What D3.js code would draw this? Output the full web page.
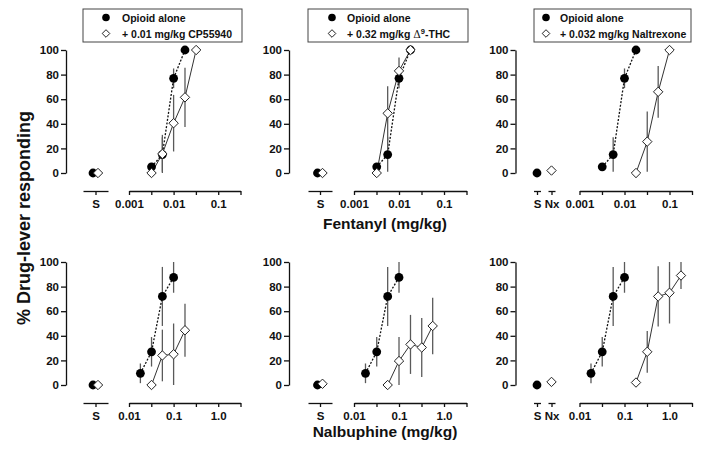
<!DOCTYPE html>
<html><head><meta charset="utf-8">
<script src="https://cdn.jsdelivr.net/npm/d3@7"></script>
<style>
body{margin:0;background:#fff}
svg{display:block}
text{font-family:"Liberation Sans",Arial,Helvetica,sans-serif;font-weight:bold;fill:#111}
</style>
</head><body>
<svg id="c" width="704" height="449"></svg>
<script>
// ---------------- DATA ----------------
const yTickValues = [0, 20, 40, 60, 80, 100];
const topTickValues = [0.001, 0.00316, 0.01, 0.0316, 0.1, 0.316];
const topTickLabels = ["0.001", "", "0.01", "", "0.1", ""];
const botTickValues = [0.01, 0.0316, 0.1, 0.316, 1, 3.16];
const botTickLabels = ["0.01", "", "0.1", "", "1.0", ""];
const xTitles = ["Fentanyl (mg/kg)", "Nalbuphine (mg/kg)"];
const yTitle = "% Drug-lever responding";
const legendAlone = "Opioid alone";
const legendTreat = ["+ 0.01 mg/kg CP55940", "+ 0.32 mg/kg \u0394^9-THC", "+ 0.032 mg/kg Naltrexone"];
const controlCats = [["S"], ["S"], ["S", "Nx"]];

// Fentanyl alone (filled circles)
const fenAloneDose = [0.0032, 0.0056, 0.01, 0.018];
const fenAloneVal  = [5, 15, 77, 100];
const fenAloneErr  = [0, 14, 8, 0];
// Fentanyl + CP55940
const fenCPDose = [0.0032, 0.0056, 0.01, 0.018, 0.032];
const fenCPVal  = [0, 15.5, 40.5, 61.5, 100];
const fenCPErr  = [0, 15.5, 23, 24, 0];
// Fentanyl + THC
const fenTHCDose = [0.0032, 0.0056, 0.01, 0.018];
const fenTHCVal  = [0, 48.5, 83, 100];
const fenTHCErr  = [0, 22, 11, 0];
// Fentanyl + Naltrexone
const fenNTXDose = [0.018, 0.032, 0.056, 0.1];
const fenNTXVal  = [0, 25.5, 66, 100];
const fenNTXErr  = [0, 24.5, 21, 0];

// Nalbuphine alone
const nalAloneDose = [0.018, 0.032, 0.056, 0.1];
const nalAloneVal  = [9.5, 27, 72, 87.5];
const nalAloneErr  = [8, 12, 24, 12.5];
// Nalbuphine + CP55940
const nalCPDose = [0.032, 0.056, 0.1, 0.18];
const nalCPVal  = [0, 24, 25, 44.5];
const nalCPErr  = [0, 21, 25, 21.5];
// Nalbuphine + THC
const nalTHCDose = [0.056, 0.1, 0.18, 0.32, 0.56];
const nalTHCVal  = [0, 19.5, 33, 30.5, 48];
const nalTHCErr  = [0, 19.5, 24, 24, 23];
// Nalbuphine + Naltrexone
const nalNTXDose = [0.18, 0.32, 0.56, 1.0, 1.8];
const nalNTXVal  = [2, 27, 72, 75, 89];
const nalNTXErr  = [0, 17, 24.5, 25, 11];

// Saline / naltrexone-alone control points (per panel)
const fenCtrlAlone = [0, 0, 0];
const fenCtrlTreat = [0, 0, 2];
const nalCtrlAlone = [0, 0, 0];
const nalCtrlTreat = [0, 1, 2.5];

// ---------------- LAYOUT ----------------
const svg = d3.select("#c");
const zip = (d, v, e) => d.map((x, i) => ({dose: x, val: v[i], err: e[i]}));

const rows = [
  {yRange: [173, 50], axisY: 191, domain: [0.001, 0.316], tv: topTickValues, tl: topTickLabels,
   title: xTitles[0], titleY: 228.5,
   alone: zip(fenAloneDose, fenAloneVal, fenAloneErr),
   treat: [zip(fenCPDose, fenCPVal, fenCPErr), zip(fenTHCDose, fenTHCVal, fenTHCErr), zip(fenNTXDose, fenNTXVal, fenNTXErr)],
   ctrlA: fenCtrlAlone, ctrlT: fenCtrlTreat},
  {yRange: [385, 262], axisY: 403, domain: [0.01, 3.16], tv: botTickValues, tl: botTickLabels,
   title: xTitles[1], titleY: 436.5,
   alone: zip(nalAloneDose, nalAloneVal, nalAloneErr),
   treat: [zip(nalCPDose, nalCPVal, nalCPErr), zip(nalTHCDose, nalTHCVal, nalTHCErr), zip(nalNTXDose, nalNTXVal, nalNTXErr)],
   ctrlA: nalCtrlAlone, ctrlT: nalCtrlTreat}
];

const cols = [
  {yAxisX: 66,    catRange: [83, 108],  catPad: 0.5, segHalf: 12.5, logRange: [129, 240.5], legend: {x: 83, w: 159, mx: 23, tx: 39}},
  {yAxisX: 289,   catRange: [308, 332], catPad: 0.5, segHalf: 12,   logRange: [354, 466.5], legend: {x: 308, w: 160, mx: 24, tx: 39}},
  {yAxisX: 515.5, catRange: [537, 551.5], catPad: 0, segHalf: 3.5,  logRange: [579.5, 692], legend: {x: 534, w: 157, mx: 12, tx: 26}}
];

const diamond = h => `M0,${-h}L${h},0L0,${h}L${-h},0Z`;
const R = 4.4, H = 4.7;

rows.forEach((row, ri) => {
  const y = d3.scaleLinear().domain([0, 100]).range(row.yRange);
  cols.forEach((col, ci) => {
    const g = svg.append("g");
    const x = d3.scaleLog().domain(row.domain).range(col.logRange);
    const cat = d3.scalePoint().domain(controlCats[ci]).range(col.catRange).padding(col.catPad);

    // Y axis
    g.append("g").attr("transform", `translate(${col.yAxisX},0)`)
      .call(d3.axisLeft(y).tickValues(yTickValues).tickSize(5).tickSizeOuter(0).tickPadding(2));
    // Log X axis
    g.append("g").attr("transform", `translate(0,${row.axisY})`)
      .call(d3.axisBottom(x).tickValues(row.tv).tickFormat((d, i) => row.tl[i]).tickSize(4).tickSizeOuter(0).tickPadding(5));
    // Category (saline) axes, each a short separate segment
    controlCats[ci].forEach(c => {
      const cx = cat(c);
      const s = d3.scalePoint().domain([c]).range([cx - col.segHalf, cx + col.segHalf]).padding(0.5);
      g.append("g").attr("transform", `translate(0,${row.axisY})`)
        .call(d3.axisBottom(s).tickSize(4).tickSizeOuter(0).tickPadding(5));
    });
    g.selectAll(".domain, .tick line").attr("stroke", "#111").attr("stroke-width", 1.3);
    g.selectAll(".tick text").attr("font-size", 11.5).attr("font-weight", "bold")
      .attr("font-family", '"Liberation Sans",Arial,sans-serif').attr("fill", "#111");

    const alone = row.alone, treat = row.treat[ci];
    // error bars
    const eb = g.append("g").attr("stroke", "#5a5a5a").attr("stroke-width", 1.3);
    [alone, treat].forEach(ser => {
      eb.selectAll(null).data(ser.filter(d => d.err > 0)).join("line")
        .attr("x1", d => x(d.dose)).attr("x2", d => x(d.dose))
        .attr("y1", d => y(Math.min(100, d.val + d.err))).attr("y2", d => y(Math.max(0, d.val - d.err)));
    });
    // lines
    const line = d3.line().x(d => x(d.dose)).y(d => y(d.val));
    g.append("path").datum(treat).attr("d", line).attr("fill", "none").attr("stroke", "#333").attr("stroke-width", 1);
    g.append("path").datum(alone).attr("d", line).attr("fill", "none").attr("stroke", "#111")
      .attr("stroke-width", 1.3).attr("stroke-dasharray", "2,1.6");

    // markers
    g.selectAll(null).data(alone).join("circle")
      .attr("cx", d => x(d.dose)).attr("cy", d => y(d.val)).attr("r", R).attr("fill", "#000");
    g.selectAll(null).data(treat).join("path")
      .attr("transform", d => `translate(${x(d.dose)},${y(d.val)})`).attr("d", diamond(H))
      .attr("fill", "#fff").attr("stroke", "#222").attr("stroke-width", 1);

    // control points
    const cats = controlCats[ci];
    const single = cats.length === 1;
    const ax = single ? cat(cats[0]) - 2.5 : cat(cats[0]);
    const tx = single ? cat(cats[0]) + 2.5 : cat(cats[1]);
    g.append("circle").attr("cx", ax).attr("cy", y(row.ctrlA[ci])).attr("r", R).attr("fill", "#000");
    g.append("path").attr("transform", `translate(${tx},${y(row.ctrlT[ci])})`).attr("d", diamond(H))
      .attr("fill", "#fff").attr("stroke", "#222").attr("stroke-width", 1);

    // legend (top row only)
    if (ri === 0) {
      const L = col.legend;
      const lg = svg.append("g").attr("transform", `translate(${L.x},9)`);
      lg.append("rect").attr("x", 0).attr("y", 0).attr("width", L.w).attr("height", 33)
        .attr("fill", "#fff").attr("stroke", "#444").attr("stroke-width", 1);
      lg.append("circle").attr("cx", L.mx).attr("cy", 8.5).attr("r", 3.8).attr("fill", "#000");
      lg.append("path").attr("transform", `translate(${L.mx},24.5)`).attr("d", diamond(3.8))
        .attr("fill", "#fff").attr("stroke", "#222").attr("stroke-width", 1);
      lg.append("text").attr("x", L.tx).attr("y", 12.5).attr("font-size", 10.5).text(legendAlone);
      const t = lg.append("text").attr("x", L.tx).attr("y", 28.5).attr("font-size", 10.5);
      const parts = legendTreat[ci].split(/\^(\d)/);
      if (parts.length === 1) t.text(parts[0]);
      else {
        t.append("tspan").text(parts[0].slice(0, -1));
        t.append("tspan").attr("font-weight", "normal").attr("font-family", '"DejaVu Serif",serif').text(parts[0].slice(-1));
        t.append("tspan").attr("dy", -4).attr("font-size", 7.5).text(parts[1]);
        t.append("tspan").attr("dy", 4).text(parts[2]);
      }
    }
  });
  // x title
  svg.append("text").attr("x", 385).attr("y", row.titleY).attr("text-anchor", "middle")
    .attr("font-size", 15.5).text(row.title);
});

// y title
svg.append("text").attr("transform", "translate(30,218) rotate(-90)").attr("text-anchor", "middle")
  .attr("font-size", 18).text(yTitle);
</script>
</body></html>
